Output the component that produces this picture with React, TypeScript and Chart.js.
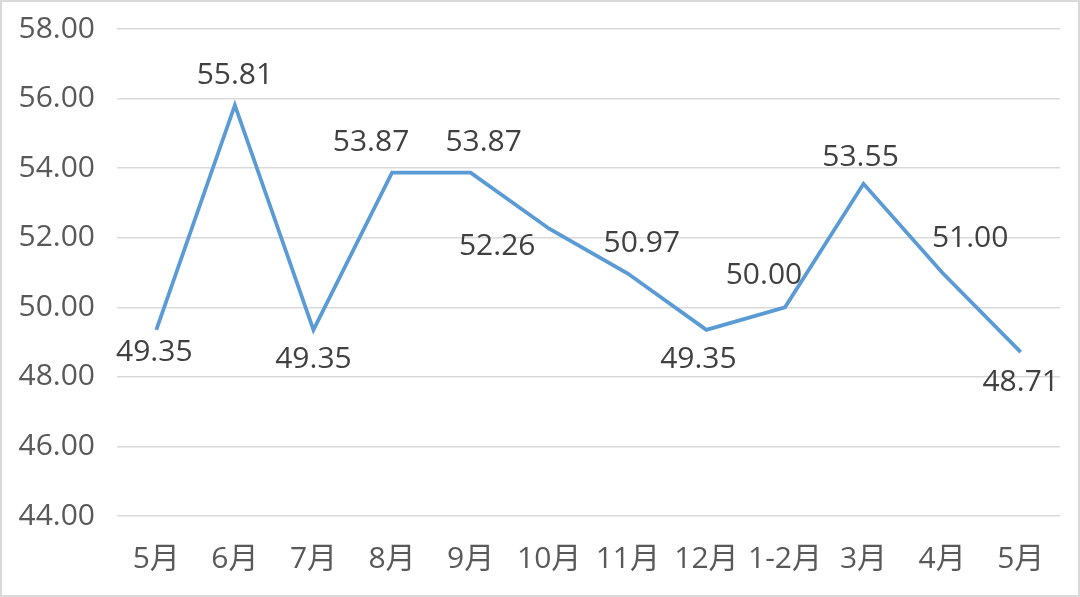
import React, { useEffect, useRef } from "react";
import { Chart, registerables } from "chart.js";

Chart.register(...registerables);

const categories = ["5月", "6月", "7月", "8月", "9月", "10月", "11月", "12月", "1-2月", "3月", "4月", "5月"];
const values = [49.35, 55.81, 49.35, 53.87, 53.87, 52.26, 50.97, 49.35, 50.0, 53.55, 51.0, 48.71];
const yTicks = [44, 46, 48, 50, 52, 54, 56, 58];

// label offsets (dx, dy) relative to each point, matching reference placement
const labelOffsets: [number, number][] = [
  [-2, 23], [0, -30], [0, 30], [-21, -30], [13, -30], [-52, 18],
  [14, -30], [-8, 30], [-21, -32], [-3, -26], [28, -34], [0, 30],
];

const FONT = '"Open Sans", "Noto Sans CJK SC", sans-serif';

const dataLabelPlugin = {
  id: "dataLabels",
  afterDatasetsDraw(chart: any) {
    const ctx = chart.ctx;
    const meta = chart.getDatasetMeta(0);
    ctx.save();
    ctx.font = `30px ${FONT}`;
    ctx.fillStyle = "#404040";
    ctx.textAlign = "center";
    ctx.textBaseline = "middle";
    meta.data.forEach((pt: any, i: number) => {
      const [dx, dy] = labelOffsets[i];
      ctx.fillText(values[i].toFixed(2), pt.x + dx, pt.y + dy);
    });
    ctx.restore();
  },
};

export default function App() {
  const ref = useRef<HTMLCanvasElement>(null);
  useEffect(() => {
    document.body.style.margin = "0";
    const chart = new Chart(ref.current!, {
      type: "line",
      data: {
        labels: categories,
        datasets: [
          {
            data: values,
            borderColor: "#5B9BD5",
            borderWidth: 3.75,
            pointRadius: 0,
            tension: 0,
            fill: false,
          },
        ],
      },
      options: {
        animation: false,
        responsive: false,
        devicePixelRatio: 1,
        layout: { padding: { left: 0, top: 29, right: 20, bottom: 0 } },
        plugins: { legend: { display: false }, tooltip: { enabled: false } },
        scales: {
          x: {
            offset: true,
            grid: { display: false, drawTicks: false },
            border: { display: false },
            ticks: {
              color: "#595959",
              font: { size: 30, family: FONT },
              padding: 25,
              maxRotation: 0,
              autoSkip: false,
            },
            afterFit: (s: any) => {
              s.height = 81;
              s.paddingLeft = 0;
              s.paddingRight = 0;
            },
          },
          y: {
            min: 44,
            max: 58,
            afterBuildTicks: (s: any) => { s.ticks = yTicks.map((v) => ({ value: v })); },
            grid: { color: "#d9d9d9", lineWidth: 1.5, drawTicks: false },
            border: { display: false },
            ticks: {
              color: "#595959",
              font: { size: 30, family: FONT },
              padding: 22,
              callback: (v: any) => Number(v).toFixed(2),
            },
            afterFit: (s: any) => {
              s.width = 117;
              s.paddingTop = 0;
              s.paddingBottom = 0;
            },
          },
        },
      },
      plugins: [dataLabelPlugin],
    });
    return () => chart.destroy();
  }, []);
  return (
    <div style={{ position: "relative", width: 1080, height: 597, background: "#fff" }}>
      <canvas ref={ref} width={1080} height={597} style={{ display: "block" }} />
      <div
        style={{
          position: "absolute",
          inset: 0,
          border: "2px solid #d9d9d9",
          pointerEvents: "none",
        }}
      />
    </div>
  );
}
